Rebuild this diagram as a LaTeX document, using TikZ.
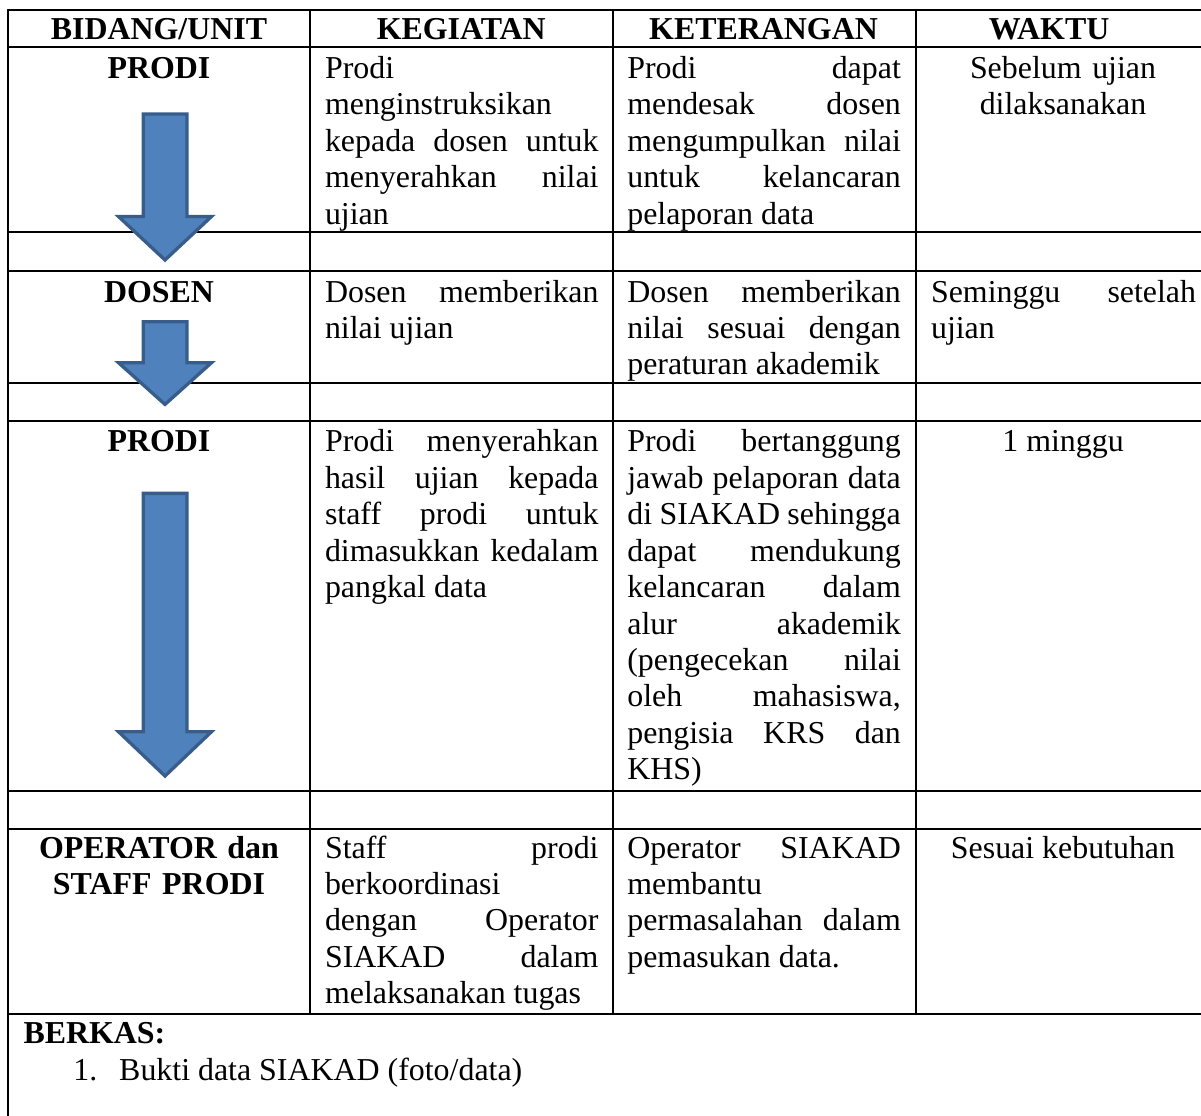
\documentclass[tikz,border=0pt]{standalone}
\usepackage{fontspec}
\setmainfont{Liberation Serif}
\tolerance=10000
\hbadness=10000
\hyphenpenalty=10000
\definecolor{biru}{RGB}{79,129,189}
\definecolor{birutua}{RGB}{56,93,138}
\tikzset{
	garis/.style={line width=0.75pt},
	huruf/.style={font=\fontsize{12}{13.72}\selectfont},
	isi/.style={huruf,anchor=base west,inner sep=0pt,text width=102.9pt,align=justify},
	tengah/.style={huruf,anchor=base,inner sep=0pt,align=center},
	judul/.style={tengah,font=\fontsize{12}{13.72}\selectfont\bfseries},
	panah/.style={fill=biru,draw=birutua,line width=1.25pt,line join=miter}
}

\begin{document}
\begin{tikzpicture}[line cap=round,line join=round,x=0.3762pt,y=-0.3762pt]
	\clip(0,0) rectangle (1201,1115);
	% garis tabel
	\foreach \y in {10,47.5,232,271,383,421,791,829,1014}
		\draw [garis] (8,\y)-- (1210,\y);
	\draw [garis] (8,10)-- (8,1120);
	\foreach \x in {310,612.5,916}
		\draw [garis] (\x,10)-- (\x,1014);
	% panah
	\foreach \atas/\dasar/\ujung in {114/216.5/260,321.7/362.7/404.4,493.4/731.7/776}
		\draw [panah] (143.3,\atas)-- (187,\atas)-- (187,\dasar)-- (211.5,\dasar)-- (165,\ujung)-- (118.5,\dasar)-- (143.3,\dasar)-- cycle;
	% kepala tabel
	\node[judul] (hBidang) at (159,40) {BIDANG/UNIT};
	\node[judul] (hKegiatan) at (461.25,40) {KEGIATAN};
	\node[judul] (hKet) at (763.5,40) {KETERANGAN};
	\node[judul] (hWaktu) at (1049,40) {WAKTU};
	% baris 1
	\node[judul] (bid1) at (159,78.3) {PRODI};
	\node[isi] (keg1) at (324.5,78.3) {Prodi\\ menginstruksikan\\ kepada dosen untuk\linebreak menyerahkan nilai\linebreak ujian};
	\node[isi] (ket1) at (626.8,78.3) {Prodi dapat\linebreak mendesak dosen\linebreak mengumpulkan nilai\linebreak untuk kelancaran\linebreak pelaporan data};
	\node[tengah,text width=99.7pt] (wkt1) at (1063,78.3) {Sebelum ujian\\ dilaksanakan};
	% baris 2
	\node[judul] (bid2) at (159,302) {DOSEN};
	\node[isi] (keg2) at (324.5,302) {Dosen memberikan\linebreak nilai ujian};
	\node[isi] (ket2) at (626.8,302) {Dosen memberikan\linebreak nilai sesuai dengan\linebreak peraturan akademik};
	\node[isi,text width=99.7pt] (wkt2) at (930.5,302) {Seminggu setelah\linebreak ujian};
	% baris 3
	\node[judul] (bid3) at (159,451.7) {PRODI};
	\node[isi] (keg3) at (324.5,451.7) {Prodi menyerahkan\linebreak hasil ujian kepada\linebreak staff prodi untuk\linebreak dimasukkan kedalam\linebreak pangkal data};
	\node[isi] (ket3) at (626.8,451.7) {Prodi bertanggung\linebreak jawab pelaporan data\linebreak di SIAKAD sehingga\linebreak dapat mendukung\linebreak kelancaran dalam\linebreak alur akademik\linebreak (pengecekan nilai\linebreak oleh mahasiswa,\linebreak pengisia KRS dan\linebreak KHS)};
	\node[tengah] (wkt3) at (1063,451.7) {1 minggu};
	% baris 4
	\node[judul,text width=102.3pt] (bid4) at (159,858) {OPERATOR dan\\ STAFF PRODI};
	\node[isi] (keg4) at (324.5,858) {Staff prodi\linebreak berkoordinasi\\ dengan Operator\linebreak SIAKAD dalam\linebreak melaksanakan tugas};
	\node[isi] (ket4) at (626.8,858) {Operator SIAKAD\linebreak membantu\\ permasalahan dalam\linebreak pemasukan data.};
	\node[tengah] (wkt4) at (1063,858) {Sesuai kebutuhan};
	% berkas
	\node[huruf,anchor=base west,inner sep=0pt,font=\fontsize{12}{13.72}\selectfont\bfseries] (berkas) at (23,1043) {BERKAS:};
	\node[huruf,anchor=base west,inner sep=0pt] (no1) at (72.8,1080) {1.};
	\node[huruf,anchor=base west,inner sep=0pt] (bukti) at (118.7,1080) {Bukti data SIAKAD (foto/data)};
\end{tikzpicture}
\end{document}
